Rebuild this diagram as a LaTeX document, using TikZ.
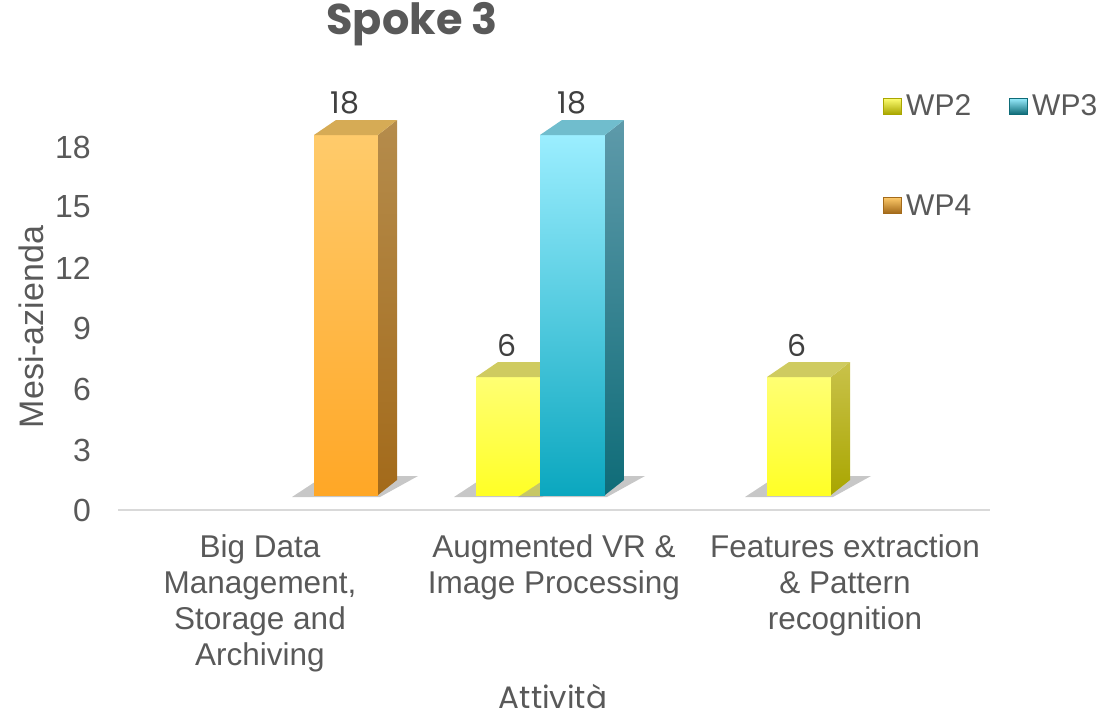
\documentclass[tikz,border=0pt]{standalone}
\usepackage{fontspec}
\setmainfont{Liberation Sans}
\newfontfamily\mont{Poppins}
\definecolor{txt}{HTML}{595959}
\definecolor{lbl}{HTML}{404040}
\definecolor{orFT}{HTML}{FFCB6B}\definecolor{orFB}{HTML}{FFA726}
\definecolor{orST}{HTML}{B58C4C}\definecolor{orSB}{HTML}{A36A1A}\definecolor{orT}{HTML}{D6AB55}
\definecolor{cyFT}{HTML}{9BEEFF}\definecolor{cyFB}{HTML}{0BA7BF}
\definecolor{cyST}{HTML}{5E9AAA}\definecolor{cySB}{HTML}{0F6C78}\definecolor{cyT}{HTML}{70BDCD}
\definecolor{yeFT}{HTML}{FFFF73}\definecolor{yeFB}{HTML}{FFFF26}
\definecolor{yeST}{HTML}{C9C24A}\definecolor{yeSB}{HTML}{A9A600}\definecolor{yeT}{HTML}{CFCB60}
\tikzset{
  x=1pt, y=-1pt,
  tick/.style={anchor=east, text=txt, font=\fontsize{32}{38}\selectfont, inner sep=0},
  cat/.style={align=center, text=txt, font=\fontsize{31.5}{36}\selectfont, anchor=north, inner sep=0},
  val/.style={text=lbl, font=\mont\fontsize{30}{36}\selectfont, inner sep=0},
  leg/.style={anchor=west, text=txt, font=\fontsize{30}{36}\selectfont, inner sep=0},
}
% bar: x1, x2, ytop, colour prefix
\newcommand{\mybar}[4]{%
  \fill[black!40, opacity=.55] (#1-22,497) -- (#2+2,497) -- (#2+40,476) -- (#1+10,476) -- cycle;
  \shade[top color=#4FT, bottom color=#4FB] (#1,#3) rectangle (#2,495);
  \shade[top color=#4ST, bottom color=#4SB] (#2,#3) -- (#2+19,#3-15) -- (#2+19,480) -- (#2,495) -- cycle;
  \fill[#4T] (#1,#3) -- (#1+22,#3-15) -- (#2+19,#3-15) -- (#2,#3) -- cycle;
}
\begin{document}
\begin{tikzpicture}
\useasboundingbox (0,0) rectangle (1107,717);
\node[text=txt, font=\mont\bfseries\fontsize{43}{50}\selectfont, inner sep=0] (title) at (412,24) {Spoke 3};
% axis
\draw[gray!30, line width=1.5pt] (118,510) -- (990,510);
% ticks
\foreach \v/\y in {0/510,3/450,6/389,9/328,12/268,15/207,18/147}
  \node[tick] (t\v) at (91,\y) {\v};
\node[rotate=90, text=txt, font=\fontsize{34}{40}\selectfont, inner sep=0] (ytitle) at (31,327) {Mesi-azienda};
% bars
\mybar{314}{378}{135}{or}
\mybar{476}{540}{377}{ye}
\mybar{540}{605}{135}{cy}
\mybar{767}{831}{377}{ye}
% value labels
\node[val] (v1) at (345,103) {18};
\node[val] (v2) at (507,345) {6};
\node[val] (v3) at (572,103) {18};
\node[val] (v4) at (797,345) {6};
% categories
\node[cat] (c1) at (260,534) {Big Data\\Management,\\Storage and\\Archiving};
\node[cat] (c2) at (554,534) {Augmented VR \&\\Image Processing};
\node[cat] (c3) at (845,534) {Features extraction\\\& Pattern\\recognition};
\node[text=txt, font=\mont\fontsize{31}{36}\selectfont, inner sep=0, anchor=base] (xtitle) at (553,708) {Attività};
% legend
\shade[top color=yeFT, bottom color=yeSB, draw=yeSB] (883,98) rectangle (901,114);
\node[leg] (l2) at (906,105) {WP2};
\shade[top color=cyFT, bottom color=cySB, draw=cySB] (1009,98) rectangle (1027,114);
\node[leg] (l3) at (1032,105) {WP3};
\shade[top color=orFT, bottom color=orSB, draw=orSB] (883,197) rectangle (901,213);
\node[leg] (l4) at (906,205) {WP4};
\end{tikzpicture}
\end{document}
